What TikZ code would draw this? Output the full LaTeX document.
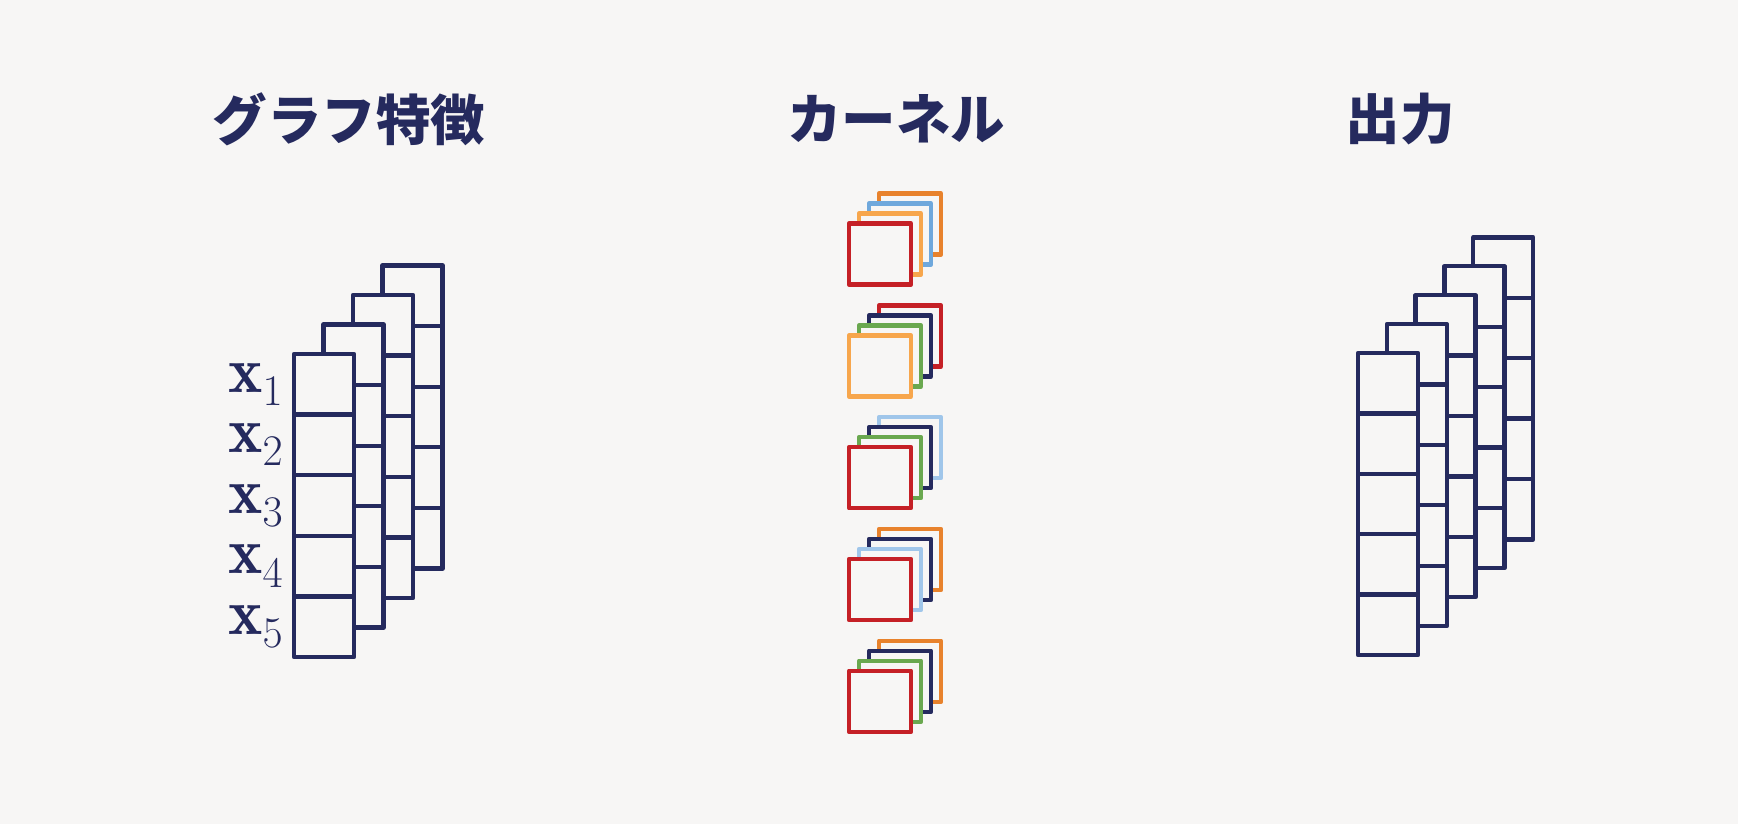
\documentclass[tikz,border=0pt]{standalone}
\usepackage{fontspec}
\usepackage{amsmath}
\usepackage{tikz}
\newfontfamily\jpfont{Noto Sans CJK JP}
\definecolor{bgpaper}{RGB}{247,246,245}
\definecolor{gnavy}{RGB}{37,42,94}
\definecolor{kred}{RGB}{197,32,38}
\definecolor{korange}{RGB}{232,130,44}
\definecolor{klorange}{RGB}{247,166,76}
\definecolor{kblue}{RGB}{111,168,220}
\definecolor{klblue}{RGB}{160,198,234}
\definecolor{kgreen}{RGB}{106,168,79}

\begin{document}
\begin{tikzpicture}[x=0.02cm, y=-0.02cm,
  title/.style={font=\jpfont\bfseries\fontsize{31}{33}\selectfont, text=gnavy},
  xlabel/.style={anchor=east, inner sep=0pt, text=gnavy, font=\fontsize{37}{40}\selectfont},
  cell/.style={draw=gnavy, fill=bgpaper, line width=2.5pt, line join=round},
  kern/.style={draw=#1, fill=bgpaper, line width=2.5pt, line join=round}
]
\fill[bgpaper] (0,0) rectangle (1738,824);
\useasboundingbox (0,0) rectangle (1738,824);

% titles
\node[title] (tfeat) at (349,119) {グラフ特徴};
\node[title] (tkern) at (896,119) {カーネル};
\node[title] (tout) at (1400,119) {出力};

% graph features: 4 layers of 5 cells
\foreach \k in {3,2,1,0}
  \foreach \i in {0,...,4}
    \draw[cell] (294+29.5*\k, 354-29.5*\k+60.6*\i) rectangle ++(60,60.6);
\foreach \i in {1,...,5}
  \node[xlabel] (x\i) at (284, 354+60.6*\i-30.3) {$\mathbf{x}_{\i}$};

% kernels
\foreach \g/\ca/\cb/\cc/\cd in {0/kred/klorange/kblue/korange,
                                 1/klorange/kgreen/gnavy/kred,
                                 2/kred/kgreen/gnavy/klblue,
                                 3/kred/klblue/gnavy/korange,
                                 4/kred/kgreen/gnavy/korange}{
  \draw[kern=\cd] (879, 193.6+111.8*\g) rectangle ++(62,61);
  \draw[kern=\cc] (869, 203.6+111.8*\g) rectangle ++(62,61);
  \draw[kern=\cb] (859, 213.6+111.8*\g) rectangle ++(62,61);
  \draw[kern=\ca] (849, 223.6+111.8*\g) rectangle ++(62,61);
}

% output: 5 layers of 5 cells
\foreach \k in {4,3,2,1,0}
  \foreach \i in {0,...,4}
    \draw[cell] (1358+28.8*\k, 353-28.9*\k+60.4*\i) rectangle ++(60,60.4);
\end{tikzpicture}
\end{document}
